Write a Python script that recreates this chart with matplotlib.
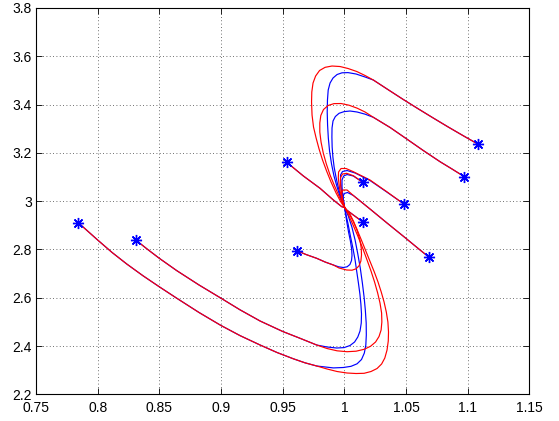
import matplotlib
matplotlib.use("Agg")
import matplotlib.pyplot as plt

# ---- data (each trajectory: star -> equilibrium) ----
# Trajectory 1 (outer lower loop)
t1_common_x = [0.7843, 0.8000, 0.8117, 0.8236, 0.8368, 0.8500, 0.8641, 0.8822, 0.9000, 0.9154,
               0.9317, 0.9454, 0.9587, 0.9681, 0.9776]
t1_common_y = [2.9106, 2.8389, 2.7872, 2.7395, 2.6907, 2.6451, 2.5979, 2.5387, 2.4849, 2.4431,
               2.4041, 2.3731, 2.3470, 2.3304, 2.3172]
t1_blue_x = [0.9911, 0.9992, 1.0054, 1.0103, 1.0139, 1.0162, 1.0174, 1.0178, 1.0177, 1.0170,
             1.0160, 1.0146, 1.0129, 1.0109, 1.0087, 1.0061, 1.0032, 1.0002]
t1_blue_y = [2.3093, 2.3110, 2.3159, 2.3263, 2.3441, 2.3710, 2.4041, 2.4455, 2.4952, 2.5491,
             2.6029, 2.6609, 2.7230, 2.7810, 2.8389, 2.8928, 2.9383, 2.9735]
t1_red_x = [0.9860, 0.9941, 1.0022, 1.0095, 1.0160, 1.0216, 1.0265, 1.0302, 1.0328, 1.0346,
            1.0356, 1.0358, 1.0353, 1.0340, 1.0322, 1.0299, 1.0273, 1.0243, 1.0210, 1.0174,
            1.0138, 1.0101, 1.0062, 1.0030, 1.0002]
t1_red_y = [2.3048, 2.2944, 2.2882, 2.2861, 2.2870, 2.2944, 2.3068, 2.3255, 2.3503, 2.3834,
            2.4207, 2.4580, 2.4994, 2.5408, 2.5822, 2.6236, 2.6650, 2.7064, 2.7478, 2.7934,
            2.8389, 2.8845, 2.9259, 2.9549, 2.9735]

# Trajectory 2 (inner lower loop)
t2_common_x = [0.8309, 0.8404, 0.8500, 0.8641, 0.8822, 0.9000, 0.9154, 0.9317, 0.9501, 0.9635, 0.9776]
t2_common_y = [2.8389, 2.8004, 2.7631, 2.7122, 2.6526, 2.5979, 2.5499, 2.5035, 2.4600, 2.4331, 2.4041]
t2_blue_x = [0.9860, 0.9938, 0.9998, 1.0046, 1.0083, 1.0109, 1.0127, 1.0137, 1.0139, 1.0134,
             1.0126, 1.0114, 1.0101, 1.0087, 1.0069, 1.0049, 1.0030, 1.0014, 1.0002]
t2_blue_y = [2.3959, 2.3917, 2.3934, 2.4021, 2.4166, 2.4373, 2.4621, 2.4952, 2.5325, 2.5739,
             2.6153, 2.6609, 2.7064, 2.7561, 2.8058, 2.8555, 2.9052, 2.9424, 2.9735]
t2_red_x = [0.9860, 0.9941, 1.0022, 1.0095, 1.0160, 1.0212, 1.0253, 1.0281, 1.0298, 1.0304,
            1.0302, 1.0289, 1.0270, 1.0245, 1.0216, 1.0184, 1.0148, 1.0109, 1.0071, 1.0034, 1.0002]
t2_red_y = [2.3896, 2.3801, 2.3764, 2.3785, 2.3863, 2.3988, 2.4166, 2.4393, 2.4663, 2.4994,
            2.5366, 2.5780, 2.6195, 2.6650, 2.7106, 2.7561, 2.8058, 2.8555, 2.9010, 2.9424, 2.9735]

# Trajectory 3 (upper-left short line)
t3_x = [0.9533, 0.9668, 0.9803, 0.9911, 0.9979, 1.0002]
t3_y = [3.1607, 3.1039, 3.0530, 3.0046, 2.9768, 2.9735]

# Trajectory 4 (small lower loop)
t4_common_x = [0.9612, 0.9689, 0.9776, 0.9844, 0.9911]
t4_common_y = [2.7954, 2.7789, 2.7631, 2.7478, 2.7354]
t4_blue_x = [0.9953, 0.9992, 1.0022, 1.0045, 1.0058, 1.0062, 1.0059, 1.0049, 1.0034, 1.0020, 1.0010, 1.0002]
t4_blue_y = [2.7280, 2.7250, 2.7280, 2.7375, 2.7540, 2.7747, 2.8017, 2.8348, 2.8720, 2.9135, 2.9466, 2.9735]
t4_red_x = [0.9957, 1.0019, 1.0062, 1.0095, 1.0119, 1.0134, 1.0139, 1.0137, 1.0126, 1.0105, 1.0077, 1.0045, 1.0002]
t4_red_y = [2.7230, 2.7147, 2.7139, 2.7197, 2.7321, 2.7520, 2.7768, 2.8058, 2.8389, 2.8762, 2.9135, 2.9466, 2.9735]

# Trajectory 5 (small upper hook)
t5_blue_x = [1.0149, 1.0073, 1.0022, 0.9994, 0.9981, 0.9981, 0.9987, 0.9995, 1.0002]
t5_blue_y = [3.0778, 3.1039, 3.1101, 3.1039, 3.0874, 3.0584, 3.0253, 2.9963, 2.9735]
t5_red_x = [1.0149, 1.0073, 1.0019, 0.9985, 0.9969, 0.9969, 0.9977, 0.9989, 1.0002]
t5_red_y = [3.0778, 3.1052, 3.1151, 3.1122, 3.0977, 3.0708, 3.0335, 3.0004, 2.9735]

# Trajectory 6 (lower-right short line)
t6_x = [1.0154, 1.0073, 1.0019, 1.0002]
t6_y = [2.9122, 2.9424, 2.9632, 2.9735]

# Trajectory 7 (hook from the right)
t7_blue_x = [1.0486, 1.0344, 1.0208, 1.0087, 1.0022, 0.9985, 0.9969, 0.9969, 0.9977, 0.9989, 1.0002]
t7_blue_y = [2.9867, 3.0377, 3.0853, 3.1164, 3.1267, 3.1226, 3.1081, 3.0791, 3.0377, 3.0046, 2.9735]
t7_red_x = [1.0486, 1.0344, 1.0208, 1.0073, 1.0014, 0.9973, 0.9953, 0.9951, 0.9961, 0.9977, 1.0002]
t7_red_y = [2.9867, 3.0389, 3.0874, 3.1217, 3.1350, 3.1350, 3.1205, 3.0957, 3.0530, 3.0128, 2.9735]

# Trajectory 8 (long hook from lower right)
t8_common_x = [1.0687, 1.0614, 1.0486, 1.0344, 1.0208, 1.0073]
t8_common_y = [2.7673, 2.7975, 2.8513, 2.9101, 2.9673, 3.0232]
t8_blue_x = [1.0026, 0.9998, 0.9989, 0.9994, 1.0002]
t8_blue_y = [3.0356, 3.0315, 3.0170, 2.9963, 2.9735]
t8_red_x = [1.0022, 0.9989, 0.9977, 0.9981, 0.9994, 1.0002]
t8_red_y = [3.0460, 3.0460, 3.0315, 3.0087, 2.9880, 2.9735]

# Trajectory 9 (inner upper loop)
t9_common_x = [1.0973, 1.0873, 1.0776, 1.0640, 1.0492, 1.0371, 1.0235]
t9_common_y = [3.1010, 3.1329, 3.1631, 3.2095, 3.2621, 3.3048, 3.3470]
t9_blue_x = [1.0168, 1.0103, 1.0046, 0.9998, 0.9957, 0.9927, 0.9908, 0.9900, 0.9899, 0.9901,
             0.9907, 0.9917, 0.9932, 0.9950, 0.9973, 1.0002]
t9_blue_y = [3.3600, 3.3690, 3.3731, 3.3706, 3.3636, 3.3503, 3.3317, 3.3027, 3.2654, 3.2240,
             3.1826, 3.1412, 3.0998, 3.0584, 3.0149, 2.9735]
t9_red_x = [1.0168, 1.0103, 1.0038, 0.9973, 0.9916, 0.9868, 0.9831, 0.9809, 0.9801, 0.9801,
            0.9811, 0.9829, 0.9854, 0.9884, 0.9921, 0.9961, 1.0002]
t9_red_y = [3.3690, 3.3850, 3.3971, 3.4041, 3.4037, 3.3959, 3.3793, 3.3545, 3.3234, 3.2861,
            3.2447, 3.1992, 3.1536, 3.1081, 3.0625, 3.0157, 2.9735]

# Trajectory 10 (outer upper loop)
t10_common_x = [1.1086, 1.0965, 1.0843, 1.0722, 1.0600, 1.0478, 1.0357, 1.0235]
t10_common_y = [3.2352, 3.2704, 3.3066, 3.3437, 3.3818, 3.4207, 3.4607, 3.5014]
t10_blue_x = [1.0168, 1.0095, 1.0030, 0.9981, 0.9941, 0.9908, 0.9884, 0.9869, 0.9863, 0.9861,
              0.9864, 0.9870, 0.9880, 0.9896, 0.9916, 0.9941, 0.9969, 1.0002]
t10_blue_y = [3.5139, 3.5263, 3.5321, 3.5313, 3.5242, 3.5097, 3.4890, 3.4600, 3.4186, 3.3689,
              3.3151, 3.2613, 3.2075, 3.1536, 3.1039, 3.0584, 3.0128, 2.9735]
t10_red_x = [1.0168, 1.0101, 1.0030, 0.9965, 0.9900, 0.9844, 0.9799, 0.9767, 0.9746, 0.9736,
             0.9734, 0.9738, 0.9750, 0.9771, 0.9795, 0.9823, 0.9856, 0.9892, 0.9933, 0.9969, 1.0002]
t10_red_y = [3.5201, 3.5366, 3.5491, 3.5573, 3.5594, 3.5540, 3.5408, 3.5180, 3.4890, 3.4518,
             3.4104, 3.3565, 3.3068, 3.2613, 3.2157, 3.1702, 3.1246, 3.0791, 3.0335, 2.9983, 2.9735]

# Starting points (stars)
star_x = [0.7843, 0.8309, 0.9533, 0.9612, 1.0149, 1.0154, 1.0486, 1.0687, 1.0973, 1.1086]
star_y = [2.9106, 2.8389, 3.1607, 2.7954, 3.0778, 2.9122, 2.9867, 2.7673, 3.1010, 3.2352]

x_ticks = [0.75, 0.8, 0.85, 0.9, 0.95, 1.0, 1.05, 1.1, 1.15]
x_tick_labels = ["0.75", "0.8", "0.85", "0.9", "0.95", "1", "1.05", "1.1", "1.15"]
y_ticks = [2.2, 2.4, 2.6, 2.8, 3.0, 3.2, 3.4, 3.6, 3.8]
y_tick_labels = ["2.2", "2.4", "2.6", "2.8", "3", "3.2", "3.4", "3.6", "3.8"]

# ---- figure ----
plt.rcParams['font.family'] = ['Liberation Sans', 'DejaVu Sans']
fig = plt.figure(figsize=(5.59, 4.21), dpi=100)
ax = fig.add_axes([0.0644, 0.0634, 0.8826, 0.9178])

blue_curves = [
    (t1_common_x + t1_blue_x, t1_common_y + t1_blue_y),
    (t2_common_x + t2_blue_x, t2_common_y + t2_blue_y),
    (t3_x, t3_y),
    (t4_common_x + t4_blue_x, t4_common_y + t4_blue_y),
    (t5_blue_x, t5_blue_y),
    (t6_x, t6_y),
    (t7_blue_x, t7_blue_y),
    (t8_common_x + t8_blue_x, t8_common_y + t8_blue_y),
    (t9_common_x + t9_blue_x, t9_common_y + t9_blue_y),
    (t10_common_x + t10_blue_x, t10_common_y + t10_blue_y),
]
red_curves = [
    (t1_common_x + t1_red_x, t1_common_y + t1_red_y),
    (t2_common_x + t2_red_x, t2_common_y + t2_red_y),
    (t3_x, t3_y),
    (t4_common_x + t4_red_x, t4_common_y + t4_red_y),
    (t5_red_x, t5_red_y),
    (t6_x, t6_y),
    (t7_red_x, t7_red_y),
    (t8_common_x + t8_red_x, t8_common_y + t8_red_y),
    (t9_common_x + t9_red_x, t9_common_y + t9_red_y),
    (t10_common_x + t10_red_x, t10_common_y + t10_red_y),
]

for xs, ys in blue_curves:
    ax.plot(xs, ys, color='#0000ff', lw=0.85, solid_joinstyle='round', zorder=3)
for xs, ys in red_curves:
    ax.plot(xs, ys, color='#ff0000', lw=0.85, solid_joinstyle='round', zorder=4)

ax.plot(star_x, star_y, linestyle='none', marker=(8, 2, 0), markersize=8,
        markeredgewidth=1.0, color='#0000ff', zorder=5)

ax.set_xlim(0.75, 1.15)
ax.set_ylim(2.2, 3.8)
ax.set_xticks(x_ticks)
ax.set_xticklabels(x_tick_labels)
ax.set_yticks(y_ticks)
ax.set_yticklabels(y_tick_labels)

ax.grid(True, color='0.25', linestyle=(0, (1, 3)), linewidth=0.6)
ax.set_axisbelow(True)
ax.tick_params(direction='in', top=True, right=True, length=4, width=0.6,
               labelsize=10, colors='black')
ax.tick_params(axis='x', pad=5)
ax.tick_params(axis='y', pad=3)
for s in ax.spines.values():
    s.set_linewidth(0.8)
    s.set_color('black')

fig.savefig("out.png", dpi=100)
